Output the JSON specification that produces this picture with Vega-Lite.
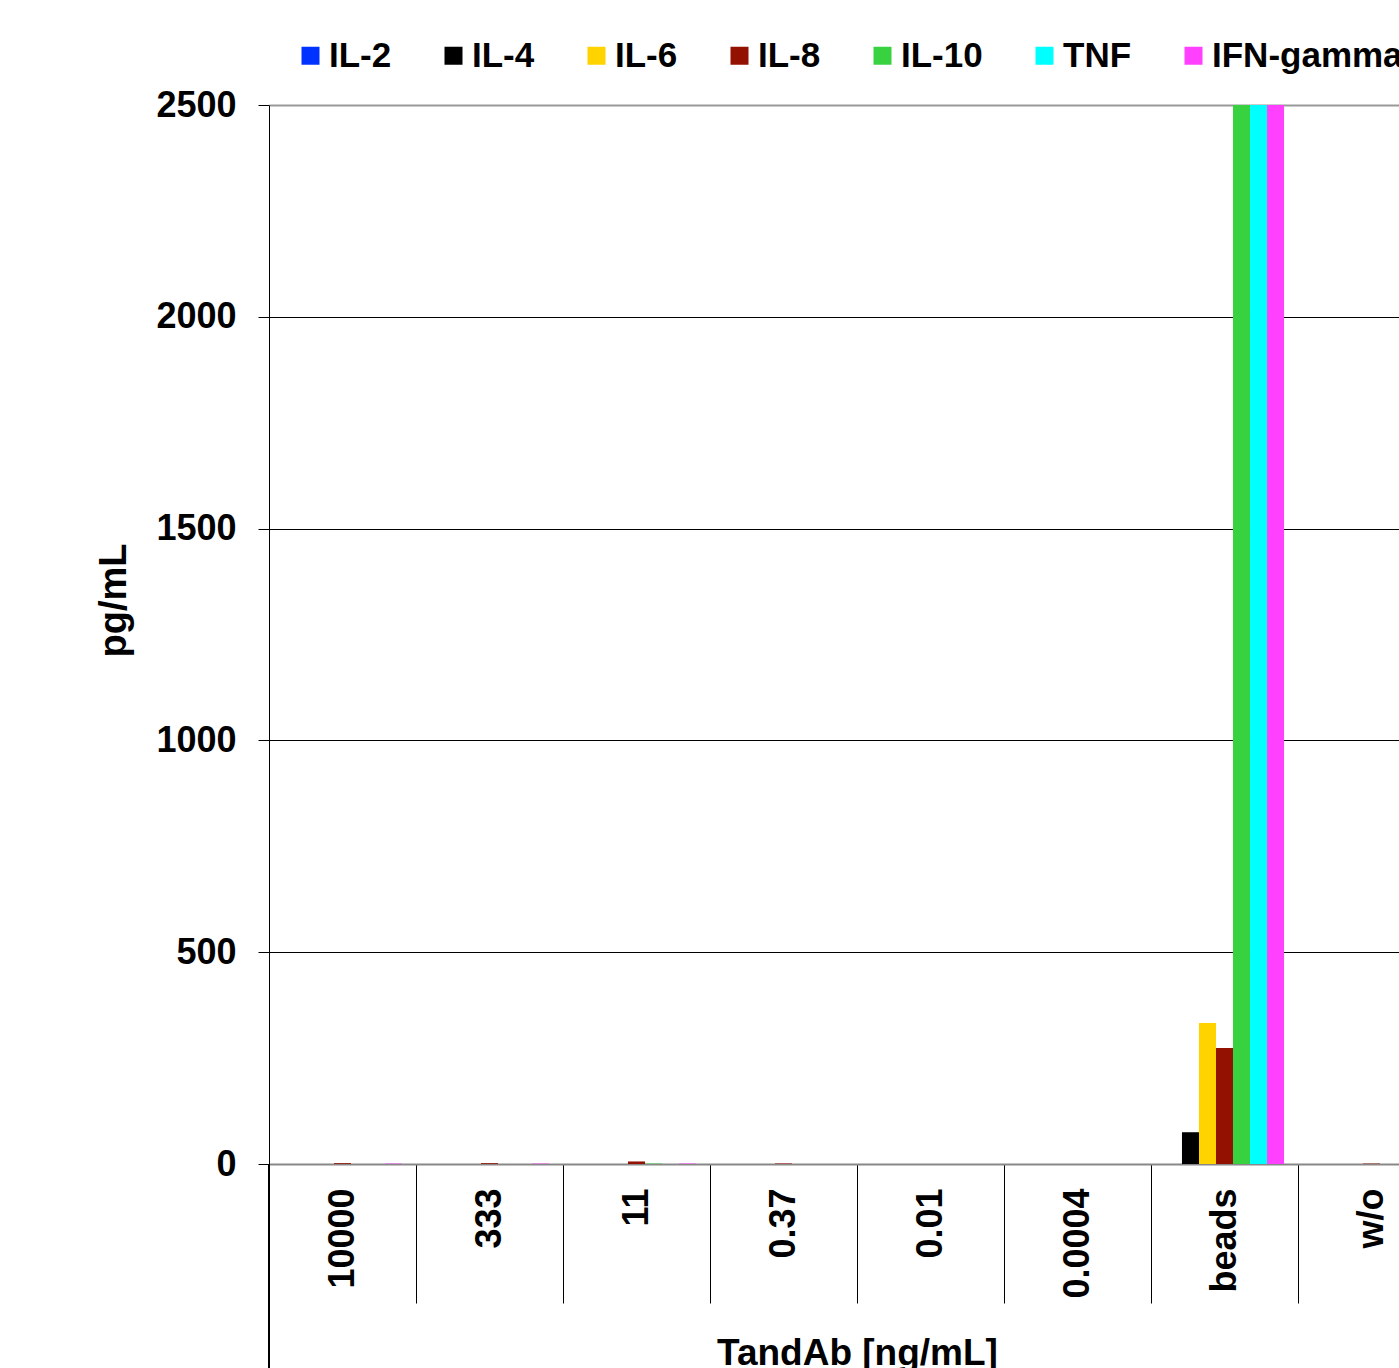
{
  "$schema": "https://vega.github.io/schema/vega-lite/v6.json",
  "width": 1130,
  "height": 1059,
  "autosize": {"type": "none"},
  "padding": {"left": 269, "top": 105, "right": 0, "bottom": 204},
  "background": "white",
  "config": {
    "view": {"stroke": null},
    "font": "Liberation Sans",
    "axis": {"labelFont": "Liberation Sans", "titleFont": "Liberation Sans", "labelFontWeight": "bold", "titleFontWeight": "bold", "labelColor": "black", "titleColor": "black"},
    "legend": {"labelFont": "Liberation Sans", "labelFontWeight": "bold"}
  },
  "data": {
    "values": [
      {"conc": "10000", "cytokine": "IL-2", "value": 0},
      {"conc": "10000", "cytokine": "IL-4", "value": 0},
      {"conc": "10000", "cytokine": "IL-6", "value": 0},
      {"conc": "10000", "cytokine": "IL-8", "value": 2},
      {"conc": "10000", "cytokine": "IL-10", "value": 0},
      {"conc": "10000", "cytokine": "TNF", "value": 0},
      {"conc": "10000", "cytokine": "IFN-gamma", "value": 1},
      {"conc": "333", "cytokine": "IL-2", "value": 0},
      {"conc": "333", "cytokine": "IL-4", "value": 0},
      {"conc": "333", "cytokine": "IL-6", "value": 0},
      {"conc": "333", "cytokine": "IL-8", "value": 2},
      {"conc": "333", "cytokine": "IL-10", "value": 0},
      {"conc": "333", "cytokine": "TNF", "value": 0},
      {"conc": "333", "cytokine": "IFN-gamma", "value": 1},
      {"conc": "11", "cytokine": "IL-2", "value": 0},
      {"conc": "11", "cytokine": "IL-4", "value": 0},
      {"conc": "11", "cytokine": "IL-6", "value": 0},
      {"conc": "11", "cytokine": "IL-8", "value": 6},
      {"conc": "11", "cytokine": "IL-10", "value": 1},
      {"conc": "11", "cytokine": "TNF", "value": 0},
      {"conc": "11", "cytokine": "IFN-gamma", "value": 1},
      {"conc": "0.37", "cytokine": "IL-2", "value": 0},
      {"conc": "0.37", "cytokine": "IL-4", "value": 0},
      {"conc": "0.37", "cytokine": "IL-6", "value": 0},
      {"conc": "0.37", "cytokine": "IL-8", "value": 1},
      {"conc": "0.37", "cytokine": "IL-10", "value": 0},
      {"conc": "0.37", "cytokine": "TNF", "value": 0},
      {"conc": "0.37", "cytokine": "IFN-gamma", "value": 0},
      {"conc": "0.01", "cytokine": "IL-2", "value": 0},
      {"conc": "0.01", "cytokine": "IL-4", "value": 0},
      {"conc": "0.01", "cytokine": "IL-6", "value": 0},
      {"conc": "0.01", "cytokine": "IL-8", "value": 0},
      {"conc": "0.01", "cytokine": "IL-10", "value": 0},
      {"conc": "0.01", "cytokine": "TNF", "value": 0},
      {"conc": "0.01", "cytokine": "IFN-gamma", "value": 0},
      {"conc": "0.0004", "cytokine": "IL-2", "value": 0},
      {"conc": "0.0004", "cytokine": "IL-4", "value": 0},
      {"conc": "0.0004", "cytokine": "IL-6", "value": 0},
      {"conc": "0.0004", "cytokine": "IL-8", "value": 0},
      {"conc": "0.0004", "cytokine": "IL-10", "value": 0},
      {"conc": "0.0004", "cytokine": "TNF", "value": 0},
      {"conc": "0.0004", "cytokine": "IFN-gamma", "value": 0},
      {"conc": "beads", "cytokine": "IL-2", "value": 0},
      {"conc": "beads", "cytokine": "IL-4", "value": 75},
      {"conc": "beads", "cytokine": "IL-6", "value": 333},
      {"conc": "beads", "cytokine": "IL-8", "value": 274},
      {"conc": "beads", "cytokine": "IL-10", "value": 3000},
      {"conc": "beads", "cytokine": "TNF", "value": 3000},
      {"conc": "beads", "cytokine": "IFN-gamma", "value": 3000},
      {"conc": "w/o", "cytokine": "IL-2", "value": 0},
      {"conc": "w/o", "cytokine": "IL-4", "value": 0},
      {"conc": "w/o", "cytokine": "IL-6", "value": 0},
      {"conc": "w/o", "cytokine": "IL-8", "value": 1},
      {"conc": "w/o", "cytokine": "IL-10", "value": 0},
      {"conc": "w/o", "cytokine": "TNF", "value": 0},
      {"conc": "w/o", "cytokine": "IFN-gamma", "value": 0}
    ]
  },
  "encoding": {
    "x": {
      "field": "conc",
      "type": "nominal",
      "scale": {"domain": ["10000", "333", "11", "0.37", "0.01", "0.0004", "beads", "w/o"], "range": [0, 1176], "paddingInner": 0, "paddingOuter": 0},
      "axis": {
        "title": "TandAb [ng/mL]",
        "titleFontSize": 37,
        "titlePadding": 32,
        "labelAngle": -90,
        "labelAlign": "right",
        "labelBaseline": "middle",
        "labelFontSize": 36,
        "labelPadding": -115,
        "tickBand": "extent",
        "tickSize": 139,
        "tickColor": "black",
        "tickWidth": 1,
        "domainColor": "#888888",
        "domainWidth": 2,
        "grid": false
      }
    }
  },
  "layer": [
    {
      "mark": {"type": "bar", "clip": true},
      "encoding": {
        "xOffset": {"field": "cytokine", "type": "nominal", "scale": {"domain": ["IL-2", "IL-4", "IL-6", "IL-8", "IL-10", "TNF", "IFN-gamma"], "paddingInner": 0, "paddingOuter": 0.82}},
        "y": {
          "field": "value",
          "type": "quantitative",
          "scale": {"domain": [0, 2500], "nice": false},
          "axis": {
            "title": "pg/mL",
            "titleFontSize": 38,
            "titlePadding": 22,
            "titleY": 495,
            "values": [0, 500, 1000, 1500, 2000, 2500],
            "format": "d",
            "labelFontSize": 36,
            "labelPadding": 22,
            "tickSize": 11,
            "tickColor": "black",
            "domainColor": "black",
            "grid": true,
            "gridColor": {"condition": {"test": "datum.value === 2500", "value": "#999999"}, "value": "black"},
            "gridWidth": {"condition": {"test": "datum.value === 2500", "value": 2}, "value": 1}
          }
        },
        "color": {
          "field": "cytokine",
          "type": "nominal",
          "scale": {"domain": ["IL-2", "IL-4", "IL-6", "IL-8", "IL-10", "TNF", "IFN-gamma"], "range": ["#0033FF", "#000000", "#FFD300", "#931100", "#38D140", "#00FFFF", "#FF40FF"]},
          "legend": {
            "title": null,
            "orient": "none",
            "legendX": 24,
            "legendY": -67,
            "direction": "horizontal",
            "columns": 7,
            "symbolType": "square",
            "symbolSize": 324,
            "symbolStrokeWidth": 0,
            "labelFontSize": 35,
            "labelOffset": 1,
            "labelLimit": 400,
            "columnPadding": 44,
            "labelColor": "black"
          }
        }
      }
    },
    {
      "mark": {"type": "rule", "color": "black", "strokeWidth": 1},
      "encoding": {
        "x": {"datum": "10000", "bandPosition": 0},
        "y": {"datum": 0},
        "y2": {"datum": -600}
      }
    }
  ]
}
